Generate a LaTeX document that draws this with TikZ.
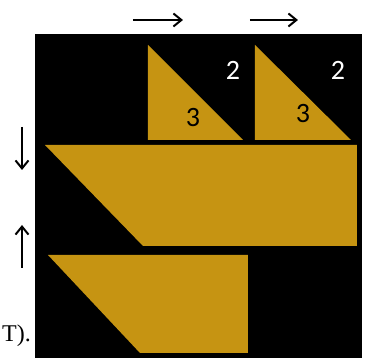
\documentclass[tikz,border=0pt]{standalone}
\usepackage{fontspec}
\setmainfont{Liberation Serif}
\newfontfamily\digitfont{Carlito}
\usetikzlibrary{arrows.meta}
\definecolor{gold}{RGB}{198,148,18}
\begin{document}
\begin{tikzpicture}[x=1pt,y=-1pt,
  piece/.style={fill=gold,draw=none},
  num/.style={font=\digitfont\fontsize{28}{28}\selectfont,inner sep=0pt},
  dirarrow/.style={line width=2pt,-{Straight Barb[length=8pt,width=13pt,line width=2pt]}}]
\useasboundingbox (0,0) rectangle (368,358);
\fill[black] (35,34) rectangle (362,358);
% pieces
\path[piece] (148,45) -- (148,140) -- (243,140) -- cycle;
\path[piece] (255,45) -- (255,140) -- (351,140) -- cycle;
\path[piece] (45,145) -- (357,145) -- (357,246) -- (143,246) -- cycle;
\path[piece] (48,255) -- (248,255) -- (248,353) -- (140,353) -- cycle;
% labels
\node[num,text=white] (n2a) at (233,70) {2};
\node[num,text=white] (n2b) at (338,70) {2};
\node[num,text=black] (n3a) at (193,118) {3};
\node[num,text=black] (n3b) at (303,114) {3};
% arrows
\coordinate (a1s) at (133,20); \coordinate (a1e) at (183,20);
\coordinate (a2s) at (250,20); \coordinate (a2e) at (298,20);
\coordinate (a3s) at (22,127); \coordinate (a3e) at (22,170);
\coordinate (a4s) at (22,268); \coordinate (a4e) at (22,225);
\draw[dirarrow] (a1s) -- (a1e);
\draw[dirarrow] (a2s) -- (a2e);
\draw[dirarrow] (a3s) -- (a3e);
\draw[dirarrow] (a4s) -- (a4e);
\node[anchor=base east,inner sep=0pt,font=\fontsize{24}{24}\selectfont] (tail) at (31,342) {T).};
\end{tikzpicture}
\end{document}
